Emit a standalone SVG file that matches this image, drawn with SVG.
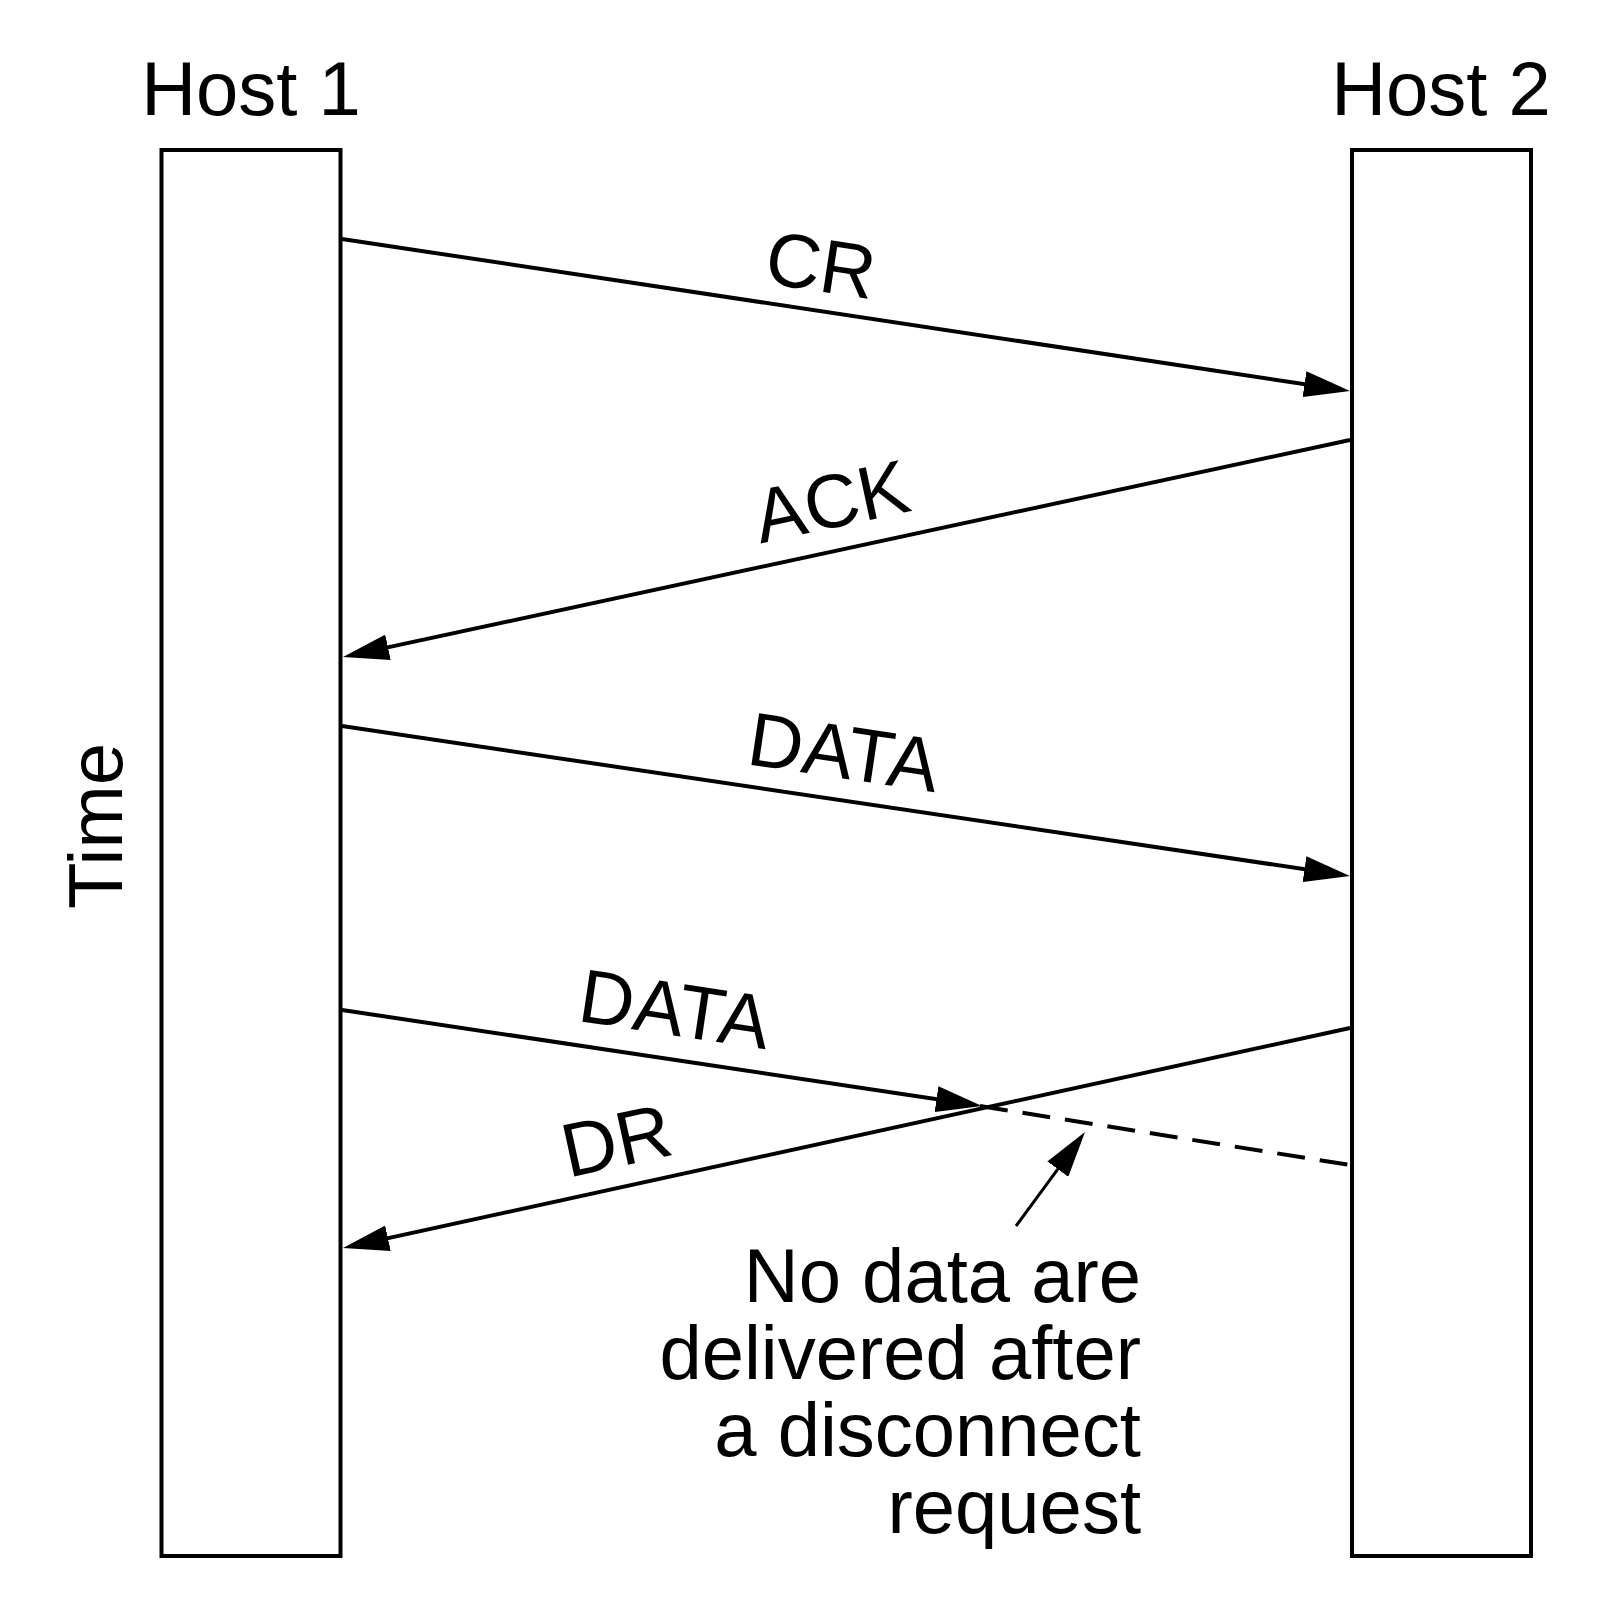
<svg xmlns="http://www.w3.org/2000/svg" width="1600" height="1600" viewBox="0 0 1600 1600">
  <style>
    .host { fill: #ffffff; stroke: #000000; stroke-width: 4; }
    .lbl { font-family: "Liberation Sans", Arial, Helvetica, sans-serif; font-size: 76px; fill: #000000; }
    .note { text-anchor: end; }
    .msg { stroke: #000000; stroke-width: 4; fill: none; marker-end: url(#arrow); }
    .dash { stroke: #000000; stroke-width: 4; fill: none; stroke-dasharray: 28 15; }
    .note-arrow { stroke: #000000; stroke-width: 3; fill: none; marker-end: url(#arrow); }
  </style>
  <defs>
    <marker id="arrow" viewBox="0 0 46 26" markerWidth="46" markerHeight="26" refX="36" refY="13" orient="auto" markerUnits="userSpaceOnUse">
      <path d="M0,0 L46,13 L0,26 Z" fill="#000000"/>
    </marker>
  </defs>
  <rect width="1600" height="1600" fill="#ffffff"/>

  <g id="host1">
    <rect class="host" x="161.5" y="150" width="179" height="1406"/>
    <text class="lbl" x="251" y="115" text-anchor="middle">Host 1</text>
  </g>

  <g id="host2">
    <rect class="host" x="1352" y="150" width="179" height="1406"/>
    <text class="lbl" x="1441" y="115" text-anchor="middle">Host 2</text>
  </g>

  <g id="time-axis">
    <text class="lbl" transform="translate(122,826) rotate(-90)" text-anchor="middle">Time</text>
  </g>

  <g id="connectors">
    <line class="msg" x1="342" y1="239" x2="1340.1" y2="389.5"/>
    <line class="msg" x1="1350" y1="440" x2="352.8" y2="654.9"/>
    <line class="msg" x1="342" y1="726" x2="1340.1" y2="874.5"/>
    <line class="msg" x1="342" y1="1010" x2="972.1" y2="1104.5"/>
    <line class="dash" x1="980" y1="1106" x2="1350" y2="1165"/>
    <line class="msg" x1="1350" y1="1028" x2="352.8" y2="1245.9"/>
    <line class="note-arrow" x1="1016" y1="1226" x2="1079.1" y2="1140.1"/>
  </g>

  <g id="labels">
    <text class="lbl" x="817" y="291" text-anchor="middle" transform="rotate(8.58 817 291)">CR</text>
    <text class="lbl" x="837" y="527" text-anchor="middle" transform="rotate(-12.16 837 527)">ACK</text>
    <text class="lbl" x="840" y="778" text-anchor="middle" transform="rotate(8.47 840 778)">DATA</text>
    <text class="lbl" x="671" y="1035" text-anchor="middle" transform="rotate(8.53 671 1035)">DATA</text>
    <text class="lbl" x="622" y="1166" text-anchor="middle" transform="rotate(-12.32 622 1166)">DR</text>
  </g>

  <g id="note">
    <text class="lbl note" x="1141" y="1302">No data are</text>
    <text class="lbl note" x="1141" y="1379">delivered after</text>
    <text class="lbl note" x="1141" y="1456">a disconnect</text>
    <text class="lbl note" x="1141" y="1533">request</text>
  </g>
</svg>
